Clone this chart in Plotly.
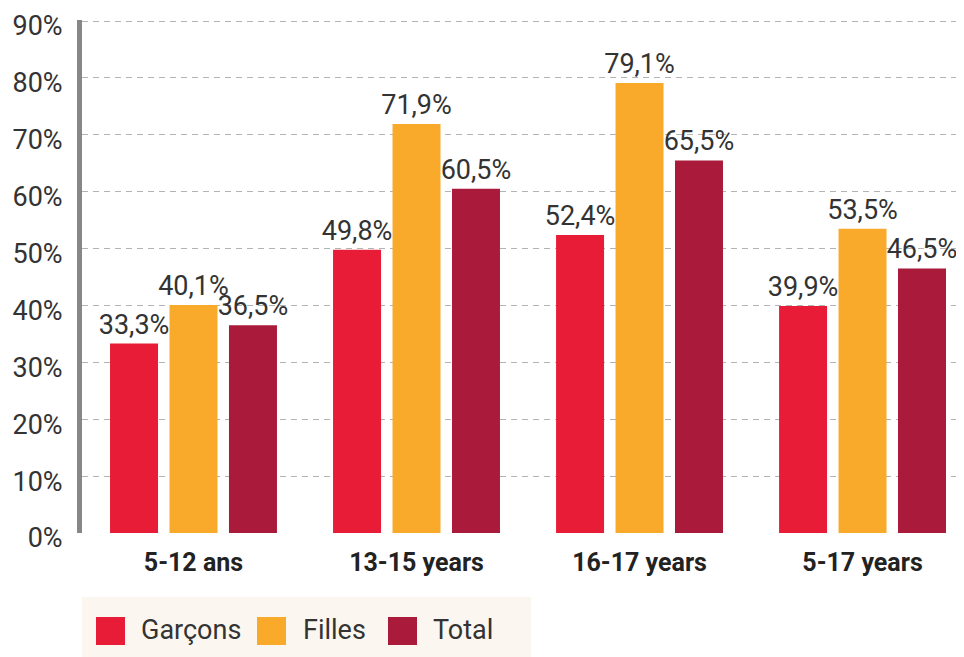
import plotly.graph_objects as go

categories = ["5-12 ans", "13-15 years", "16-17 years", "5-17 years"]
garcons = [33.3, 49.8, 52.4, 39.9]
filles = [40.1, 71.9, 79.1, 53.5]
total = [36.5, 60.5, 65.5, 46.5]
series_names = ["Garçons", "Filles", "Total"]
colors = ["#E81C36", "#F9AA2A", "#AA1B3B"]
y_ticks = [0, 10, 20, 30, 40, 50, 60, 70, 80, 90]

# page body has an 8px margin: figure is drawn 8px in from the window edge
OFF = 8
W, H = 964 - OFF, 657 - OFF
L, R, T = 82 - OFF, 0, 20 - OFF
B = H - (533 - OFF)
PW, PH = W - L - R, H - T - B

def px_x(px):  # screen px -> paper
    return (px - OFF - L) / PW

def px_y(py):
    return (H - B - (py - OFF)) / PH

FONT = "Roboto"
fig = go.Figure()
for name, vals, col in zip(series_names, [garcons, filles, total], colors):
    fig.add_trace(go.Bar(
        x=categories, y=vals, name=name, marker_color=col, marker_line_width=0,
        text=[f"{v:.1f}%".replace(".", ",") for v in vals],
        textposition="outside", constraintext="none", cliponaxis=False,
        textfont=dict(family=FONT, size=27, color="#333333"),
        showlegend=False,
    ))

shapes = [dict(type="rect", xref="paper", yref="paper",
               x0=px_x(82), x1=px_x(531), y0=px_y(657), y1=px_y(597),
               fillcolor="#FBF7F0", line_width=0, layer="below")]
annotations = []
sq = [(96, 125), (257, 286), (388, 417)]
txt_x = [139, 301, 431]
for (a, b), tx, name, col in zip(sq, txt_x, series_names, colors):
    shapes.append(dict(type="rect", xref="paper", yref="paper",
                       x0=px_x(a), x1=px_x(b), y0=px_y(645), y1=px_y(617),
                       fillcolor=col, line_width=0))
    annotations.append(dict(xref="paper", yref="paper", x=px_x(tx), y=px_y(630),
                            text=name, showarrow=False, xanchor="left", yanchor="middle",
                            font=dict(family=FONT, size=27, color="#333333")))

fig.update_layout(
    width=W, height=H,
    margin=dict(l=L, r=R, t=T, b=B, autoexpand=False),
    paper_bgcolor="white", plot_bgcolor="white",
    barmode="group", bargap=0.2, bargroupgap=0.193,
    shapes=shapes, annotations=annotations,
    xaxis=dict(range=[-0.5, 3.455], showgrid=False, showline=False, zeroline=False,
               automargin=False, ticks="", ticklabelstandoff=12,
               tickfont=dict(family=FONT, size=25, color="#222222", weight="bold")),
    yaxis=dict(range=[0, 90.18], tickvals=y_ticks, ticktext=[f"{v}%" for v in y_ticks],
               showgrid=True, gridcolor="#B3B3B3", gridwidth=1, griddash="6px,5px",
               zeroline=False, showline=True, linecolor="#86878B", linewidth=5,
               automargin=False, ticks="", ticklabelstandoff=9, ticklabelshift=5,
               tickfont=dict(family=FONT, size=27, color="#333333")),
)
fig.write_html("out.html")
